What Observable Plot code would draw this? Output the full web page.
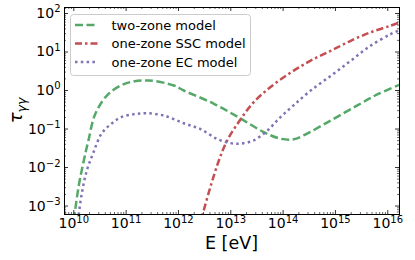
<!DOCTYPE html>
<html><head><meta charset="utf-8">
<script src="https://cdn.jsdelivr.net/npm/d3@7"></script>
<script src="https://cdn.jsdelivr.net/npm/@observablehq/plot@0.6"></script>
<style>body{margin:0;background:#fff}</style>
</head><body><div id="chart"></div>
<script>
// ---- data (E in eV, tau dimensionless) ----
const twoZoneE   = [1.0e10, 1.23e10, 1.55e10, 1.9e10, 2.57e10, 4.57e10, 1.02e11, 2.69e11, 8.13e11, 1.26e12, 4.68e12, 1.55e13, 4.27e13, 8.9e13, 1.58e14, 2.45e14, 8.1e14, 2.63e15, 6.3e15, 1.68e16];
const twoZoneTau = [4.3e-4, 3.1e-3, 1.5e-2, 5.0e-2, 0.245, 0.81, 1.55, 1.82, 1.35, 1.0, 0.457, 0.186, 0.083, 0.056, 0.054, 0.068, 0.166, 0.41, 0.79, 1.41];

const sscE   = [2.51e12, 2.84e12, 4.07e12, 5.9e12, 8.5e12, 1.55e13, 2.75e13, 5.75e13, 1.38e14, 3.31e14, 8.1e14, 1.95e15, 4.68e15, 1.12e16, 1.68e16];
const sscTau = [3.2e-4, 5.6e-4, 3.1e-3, 1.5e-2, 5.0e-2, 0.182, 0.50, 1.23, 2.88, 5.9, 10.7, 19.5, 32.4, 47.9, 58.9];

const ecE   = [1.15e10, 1.23e10, 1.42e10, 1.77e10, 2.38e10, 3.39e10, 5.25e10, 8.13e10, 1.48e11, 2.45e11, 5.25e11, 1.26e12, 2.63e12, 5.5e12, 1.0e13, 1.55e13, 2.69e13, 5.0e13, 8.9e13, 1.58e14, 3.31e14, 8.1e14, 1.95e15, 4.68e15, 1.12e16, 1.68e16];
const ecTau = [3.0e-4, 5.6e-4, 2.1e-3, 8.3e-3, 2.5e-2, 7.6e-2, 0.138, 0.204, 0.245, 0.257, 0.224, 0.141, 0.100, 0.055, 0.043, 0.042, 0.050, 0.091, 0.204, 0.41, 0.98, 2.4, 5.9, 14.5, 28.8, 37];

const seriesNames = ["two-zone model", "one-zone SSC model", "one-zone EC model"];

const xTickValues = [1e10, 1e11, 1e12, 1e13, 1e14, 1e15, 1e16];
const xTickLabels = ["10^10", "10^11", "10^12", "10^13", "10^14", "10^15", "10^16"];
const yTickValues = [1e-3, 1e-2, 1e-1, 1e0, 1e1, 1e2];
const yTickLabels = ["10^-3", "10^-2", "10^-1", "10^0", "10^1", "10^2"];

const xDomain = [6.64e9, 1.675e16];
const yDomain = [6.03e-4, 143];

// ---- build tables ----
const toRows = (E, T) => E.map((e, i) => ({E: e, tau: T[i]}));
const twoZone = toRows(twoZoneE, twoZoneTau);
const ssc = toRows(sscE, sscTau);
const ec = toRows(ecE, ecTau);

// minor tick positions (2..9 x 10^k inside domain)
function minors(dom) {
  const out = [];
  for (let k = Math.floor(Math.log10(dom[0])); k <= Math.ceil(Math.log10(dom[1])); k++)
    for (let m = 2; m <= 9; m++) { const v = m * Math.pow(10, k); if (v > dom[0] && v < dom[1]) out.push(v); }
  return out;
}
const xMinor = minors(xDomain), yMinor = minors(yDomain);

const W = 415, H = 260, mL = 64, mR = 16, mT = 7, mB = 46;
const fw = W - mL - mR, fh = H - mT - mB;

const styles = [
  {stroke: "#55a868", dash: "8,3.5"},
  {stroke: "#c44e52", dash: "7,3,2.5,3"},
  {stroke: "#8172b3", dash: "2.5,3.3"}
];
const lw = 2.5;

const xLab = new Map(xTickValues.map((v, i) => [v, xTickLabels[i]]));
const yLab = new Map(yTickValues.map((v, i) => [v, yTickLabels[i]]));

const plot = Plot.plot({
  width: W, height: H,
  marginLeft: mL, marginRight: mR, marginTop: mT, marginBottom: mB,
  style: {fontFamily: "'DejaVu Sans', sans-serif", fontSize: "14px", color: "black", background: "white"},
  x: {type: "log", domain: xDomain},
  y: {type: "log", domain: yDomain},
  marks: [
    Plot.line(twoZone, {x: "E", y: "tau", stroke: styles[0].stroke, strokeWidth: lw, strokeDasharray: styles[0].dash, strokeLinecap: "butt", curve: "catmull-rom", clip: true}),
    Plot.line(ssc, {x: "E", y: "tau", stroke: styles[1].stroke, strokeWidth: lw, strokeDasharray: styles[1].dash, strokeLinecap: "butt", curve: "catmull-rom", clip: true}),
    Plot.line(ec, {x: "E", y: "tau", stroke: styles[2].stroke, strokeWidth: lw, strokeDasharray: styles[2].dash, strokeLinecap: "butt", curve: "catmull-rom", clip: true}),
    // inward ticks on all four sides
    Plot.tickX(xTickValues, {x: d => d, insetTop: fh - 4, stroke: "black", strokeWidth: 0.8}),
    Plot.tickX(xTickValues, {x: d => d, insetBottom: fh - 4, stroke: "black", strokeWidth: 0.8}),
    Plot.tickX(xMinor, {x: d => d, insetTop: fh - 2, stroke: "black", strokeWidth: 0.6}),
    Plot.tickX(xMinor, {x: d => d, insetBottom: fh - 2, stroke: "black", strokeWidth: 0.6}),
    Plot.tickY(yTickValues, {y: d => d, insetRight: fw - 4, stroke: "black", strokeWidth: 0.8}),
    Plot.tickY(yTickValues, {y: d => d, insetLeft: fw - 4, stroke: "black", strokeWidth: 0.8}),
    Plot.tickY(yMinor, {y: d => d, insetRight: fw - 2, stroke: "black", strokeWidth: 0.6}),
    Plot.tickY(yMinor, {y: d => d, insetLeft: fw - 2, stroke: "black", strokeWidth: 0.6}),
    Plot.frame({stroke: "black", strokeWidth: 1}),
    Plot.axisX(xTickValues, {tickSize: 0, tickPadding: 4, tickFormat: d => xLab.get(d), label: null}),
    Plot.axisY(yTickValues, {tickSize: 0, tickPadding: 4, tickFormat: d => yLab.get(d), label: null})
  ]
});
document.getElementById("chart").appendChild(plot);

const svg = d3.select(plot);
// superscript tick labels
svg.selectAll('g[aria-label="x-axis tick label"] text, g[aria-label="y-axis tick label"] text').each(function() {
  const s = this.textContent;
  const [b, e] = s.split("^");
  const t = d3.select(this);
  t.text(b);
  t.append("tspan").attr("dy", -5.5).attr("font-size", 10).text(e.replace("-", "\u2212"));
});

// axis titles
svg.append("text").attr("x", mL + fw / 2).attr("y", 248.5).attr("text-anchor", "middle")
  .attr("font-size", 17.5).attr("fill", "black").text("E [eV]");
const yl = svg.append("text").attr("transform", `translate(22,${mT + fh / 2}) rotate(-90)`)
  .attr("text-anchor", "middle").attr("font-size", 18).attr("fill", "black");
yl.append("tspan").attr("font-style", "italic").text("\u03c4");
yl.append("tspan").attr("font-size", 12.5).attr("font-style", "italic").attr("dy", 4).text("\u03b3\u03b3");

// legend
const lg = svg.append("g").attr("text-anchor", "start");
lg.append("rect").attr("x", 70.5).attr("y", 14.5).attr("width", 180).attr("height", 61).attr("rx", 3)
  .attr("fill", "white").attr("fill-opacity", 0.8).attr("stroke", "#cccccc").attr("stroke-width", 1);
const rowsY = [25, 43.5, 62];
seriesNames.forEach((name, i) => {
  lg.append("line").attr("x1", 75).attr("x2", 98).attr("y1", rowsY[i]).attr("y2", rowsY[i])
    .attr("stroke", styles[i].stroke).attr("stroke-width", lw).attr("stroke-dasharray", styles[i].dash);
  lg.append("text").attr("x", 111.5).attr("y", rowsY[i]).attr("dy", "0.35em").attr("text-anchor", "start")
    .attr("font-size", 13).attr("fill", "black").text(name);
});
</script>
</body></html>
